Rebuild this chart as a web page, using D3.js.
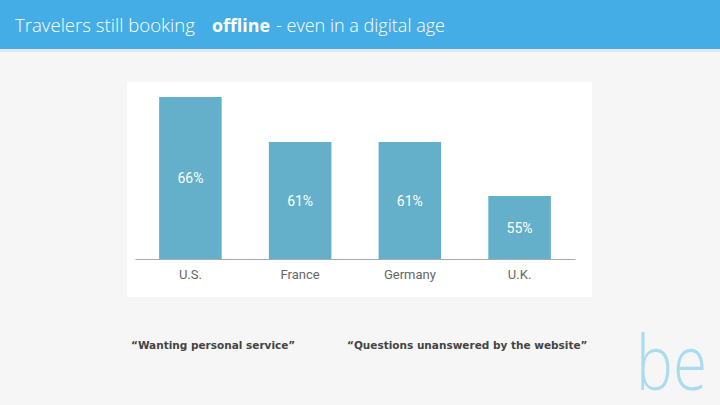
<!DOCTYPE html>
<html>
<head>
<meta charset="utf-8">
<script src="https://cdn.jsdelivr.net/npm/d3@7"></script>
<style>
  body { margin: 0; background: #f6f6f6; }
  svg { display: block; }
</style>
</head>
<body>
<svg id="slide" width="720" height="405"></svg>
<script>
// data for the chart
var countries = ["U.S.", "France", "Germany", "U.K."]
var shares = [66, 61, 61, 55]
var quotes = ["\u201cWanting personal service\u201d", "\u201cQuestions unanswered by the website\u201d"]

var svg = d3.select("#slide")

// slide background + header
svg.append("rect").attr("width", 720).attr("height", 405).attr("fill", "#f6f6f6")
svg.append("rect").attr("y", 48).attr("width", 720).attr("height", 4).attr("fill", "#e6e6e6")
svg.append("rect").attr("width", 720).attr("height", 49).attr("fill", "#45ade6")

var title = svg.append("g")
    .attr("fill", "#ffffff")
    .style("font-family", "'Open Sans', sans-serif")
    .style("font-size", "18px")
    .style("font-weight", 300)
title.append("text").attr("x", 15).attr("y", 32)
    .attr("textLength", 180).attr("lengthAdjust", "spacingAndGlyphs")
    .text("Travelers still booking")
title.append("text").attr("x", 212).attr("y", 32)
    .attr("textLength", 58).attr("lengthAdjust", "spacingAndGlyphs")
    .style("font-weight", 700).text("offline")
title.append("text").attr("x", 276).attr("y", 32)
    .attr("textLength", 169).attr("lengthAdjust", "spacingAndGlyphs")
    .text("- even in a digital age")

// chart panel
svg.append("rect")
    .attr("x", 127).attr("y", 82)
    .attr("width", 465).attr("height", 215)
    .attr("fill", "#ffffff")

var xScale = d3.scaleBand()
    .domain(countries)
    .range([135, 575])
    .paddingInner(0.43)
    .paddingOuter(0.22)

var yScale = d3.scaleLinear()
    .domain([48, 66])
    .range([259, 97])

var chart = svg.append("g")

chart.selectAll("rect.bar")
    .data(shares)
    .enter().append("rect")
    .attr("class", "bar")
    .attr("x", (d, i) => xScale(countries[i]))
    .attr("y", d => yScale(d))
    .attr("width", xScale.bandwidth())
    .attr("height", d => yScale(48) - yScale(d))
    .attr("fill", "#64b0ca")

chart.selectAll("text.val")
    .data(shares)
    .enter().append("text")
    .attr("class", "val")
    .attr("x", (d, i) => xScale(countries[i]) + xScale.bandwidth() / 2)
    .attr("y", d => (yScale(d) + yScale(48)) / 2 + 5)
    .attr("text-anchor", "middle")
    .attr("fill", "#ffffff")
    .style("font-family", "Roboto, sans-serif")
    .style("font-size", "14px")
    .text(d => d + "%")

var xAxis = chart.append("g")
    .attr("transform", "translate(0," + yScale(48) + ")")
    .call(d3.axisBottom(xScale).tickSize(0).tickPadding(11))
xAxis.select(".domain").attr("stroke", "#aaaaaa").attr("stroke-width", 1.2)
xAxis.selectAll("text")
    .attr("fill", "#666666")
    .style("font-family", "Roboto, sans-serif")
    .style("font-size", "13px")

// quotes under the chart
svg.selectAll("text.quote")
    .data(quotes)
    .enter().append("text")
    .attr("class", "quote")
    .attr("x", (d, i) => i == 0 ? 131 : 347)
    .attr("y", 349)
    .attr("fill", "#444444")
    .style("font-family", "'DejaVu Sans', Verdana, sans-serif")
    .style("font-size", "10.5px")
    .style("font-weight", 700)
    .text(d => d)

// logo
svg.append("text")
    .attr("x", 636).attr("y", 390)
    .attr("fill", "#a9dcf1")
    .attr("textLength", 71).attr("lengthAdjust", "spacingAndGlyphs")
    .style("font-family", "'Open Sans', sans-serif")
    .style("font-size", "76px")
    .style("font-weight", 300)
    .text("be")
</script>
</body>
</html>
